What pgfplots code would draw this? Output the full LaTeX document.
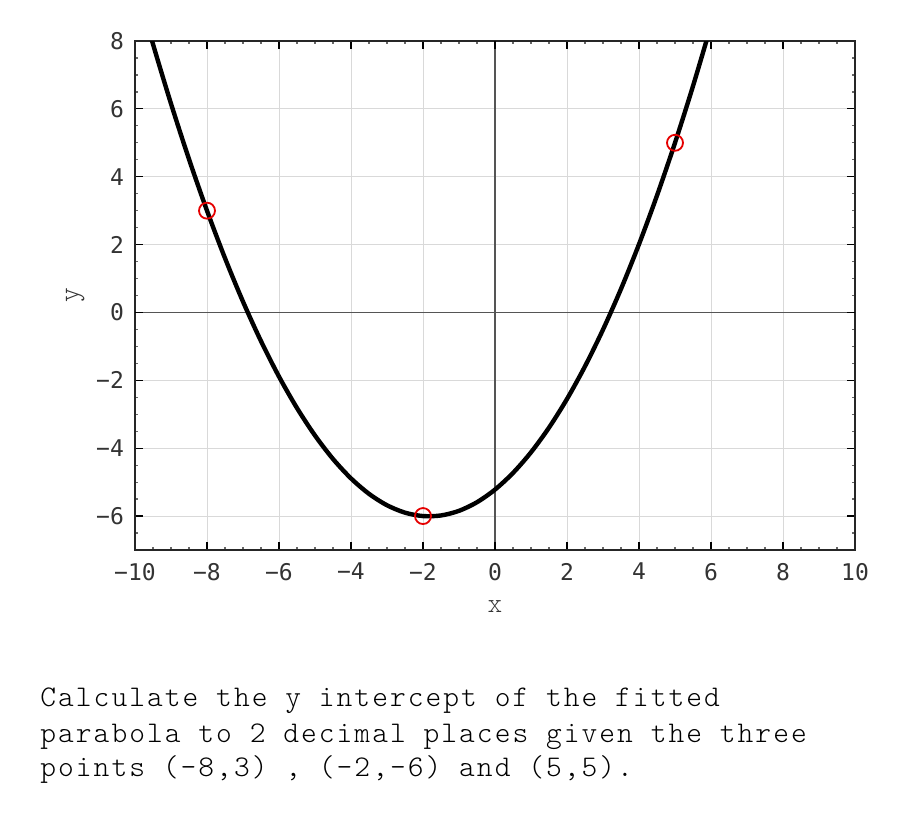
\documentclass[border=0pt]{standalone}
\usepackage{fontspec}
\setmainfont{Liberation Mono}
\newfontfamily\tickfont{DejaVu Sans Mono}
\newfontfamily\bodytt[LetterSpace=6.8]{lmmonolt10-regular.otf}
\newfontfamily\labtt{lmmonolt10-regular.otf}
\usepackage{pgfplots}
\pgfplotsset{compat=1.18}
\definecolor{ticktxt}{HTML}{333333}
\definecolor{gridc}{HTML}{D9D9D9}
\definecolor{zeroc}{HTML}{555555}
\newcommand\bodyfont{\bodytt\fontsize{15pt}{17.5pt}\selectfont}
\begin{document}
\begin{tikzpicture}
\useasboundingbox (0,0) rectangle (450pt,412.5pt);
\begin{axis}[
  at={(67.5pt,137.5pt)}, anchor=south west,
  scale only axis, width=360pt, height=254.5pt,
  xmin=-10, xmax=10, ymin=-7, ymax=8,
  xtick={-10,-8,...,10},
  xticklabels={−10,−8,−6,−4,−2,0,2,4,6,8,10},
  ytick={-6,-4,...,8},
  yticklabels={−6,−4,−2,0,2,4,6,8},
  minor xtick={-10,-9.5,...,10},
  minor ytick={-7,-6.5,...,8},
  tick align=inside,
  major tick length=4pt, minor tick length=1.6pt,
  every tick/.style={black, line width=0.6pt},
  minor tick style={black!60, line width=0.6pt},
  grid=major,
  major grid style={gridc, line width=0.5pt},
  axis line style={black!85, line width=0.7pt},
  tick label style={font=\tickfont\fontsize{11.5pt}{13pt}\selectfont, text=ticktxt},
  xticklabel style={yshift=-3pt},
  yticklabel style={xshift=-2pt},
  extra x ticks={0}, extra x tick labels={},
  extra y ticks={0}, extra y tick labels={},
  extra tick style={grid=major, major grid style={zeroc, line width=0.7pt}},
  xlabel={x}, ylabel={y},
  label style={font=\labtt\fontsize{14pt}{16pt}\selectfont, text=ticktxt},
  xlabel style={yshift=-3pt},
  ylabel style={yshift=-1pt},
  clip=true,
]
\addplot[black, line width=2.2pt, smooth] coordinates {
(-10,9.78025) (-9.5,7.90797) (-9,6.15389) (-8.5,4.51769) (-8,3.0000)
(-7.5,1.60024) (-7,0.31866) (-6.5,-0.84477) (-6,-1.89010) (-5.5,-2.81729)
(-5,-3.62637) (-4.5,-4.31730) (-4,-4.89011) (-3.5,-5.34478) (-3,-5.68132)
(-2.5,-5.89972) (-2,-6.0000) (-1.5,-5.98215) (-1,-5.84615) (-0.5,-5.59203)
(0,-5.21978) (0.5,-4.72940) (1,-4.12088) (1.5,-3.39423) (2,-2.54946)
(2.5,-1.58654) (3,-0.50550) (3.5,0.69368) (4,2.01099) (4.5,3.44644)
(5,5.00001) (5.5,6.67171) (6,8.46154)
};
\addplot[only marks, mark=o, mark size=4pt, red!90!black, mark options={line width=0.9pt}] coordinates {(-8,3) (-2,-6) (5,5)};
\end{axis}
\node[anchor=base west, inner sep=0pt, font=\bodyfont] at (20pt,59pt) {Calculate the y intercept of the fitted};
\node[anchor=base west, inner sep=0pt, font=\bodyfont] at (20pt,41.5pt) {parabola to 2 decimal places given the three};
\node[anchor=base west, inner sep=0pt, font=\bodyfont] at (20pt,24pt) {points (-8,3) , (-2,-6) and (5,5).};
\end{tikzpicture}
\end{document}
